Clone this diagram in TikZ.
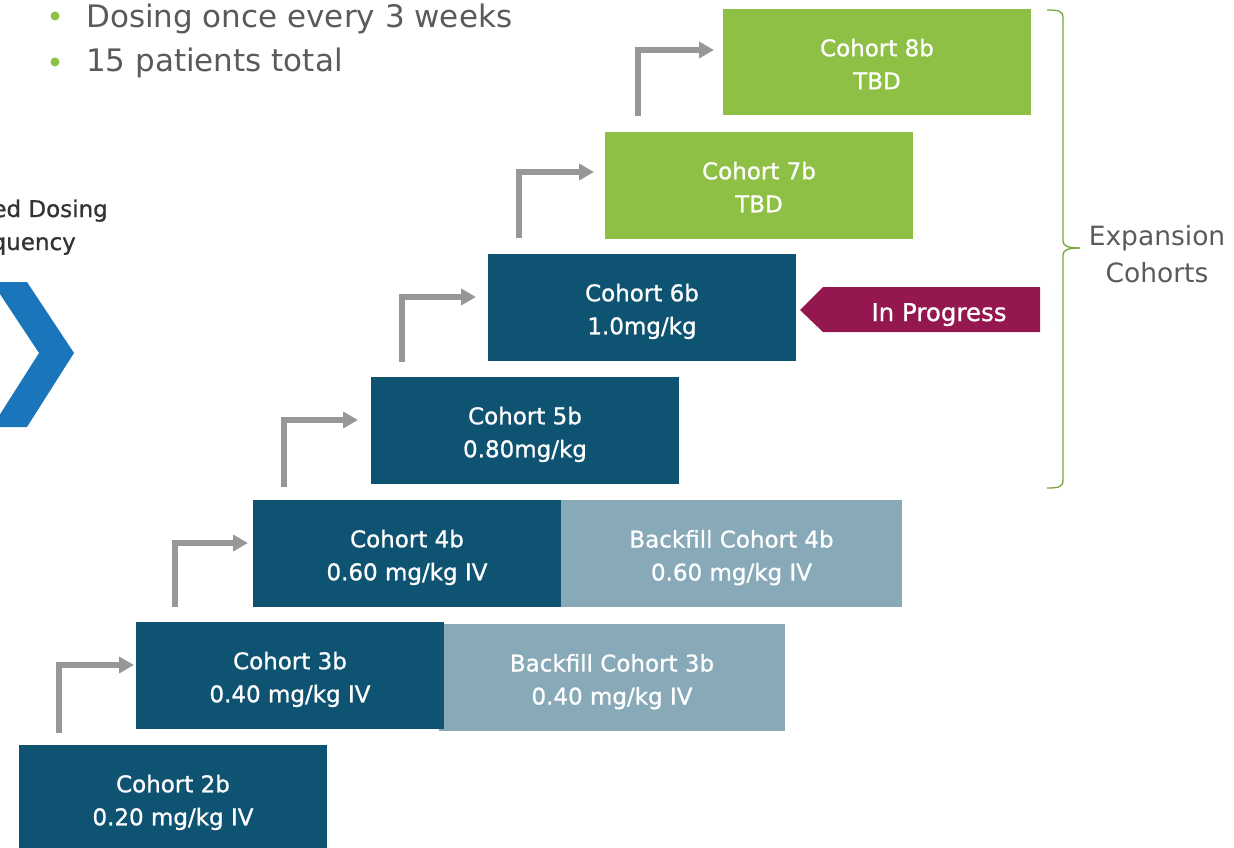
\documentclass[tikz,border=0pt]{standalone}
\usepackage{fontspec}
\setmainfont{DejaVu Sans}
\newfontface\boxfont{DejaVu Sans}[FakeBold=0.9]
\usetikzlibrary{arrows.meta,calc}
\definecolor{cdark}{HTML}{0F5373}
\definecolor{clight}{HTML}{87A9B8}
\definecolor{cgreen}{HTML}{8DC044}
\definecolor{cgray}{HTML}{979797}
\definecolor{cmag}{HTML}{95174F}
\definecolor{cblue}{HTML}{1B75BB}
\definecolor{cbrace}{HTML}{78A541}
\definecolor{ctext}{HTML}{5A5A5A}
\definecolor{cdtext}{HTML}{333333}
\begin{document}
\begin{tikzpicture}[x=1pt,y=-1pt,
  box/.style={anchor=north west, minimum width=308pt, minimum height=106.5pt,
    inner sep=0pt, outer sep=0pt, text=white, align=center,
    text height=56pt, text depth=2pt,
    font=\boxfont\fontsize{23}{33}\selectfont},
  mainbox/.style={box, fill=cdark},
  backbox/.style={box, fill=clight, minimum width=346pt, minimum height=107pt},
  expbox/.style={box, fill=cgreen},
  arr/.style={draw=cgray, line width=6pt, line join=miter, line cap=butt,
    -{Triangle[length=15pt,width=16pt]}},
  bullet/.style={circle, fill=cgreen, minimum size=9pt, inner sep=0pt},
  toptext/.style={anchor=base west, text=ctext, inner sep=0pt, font=\fontsize{31}{37}\selectfont},
  dostext/.style={anchor=base east, text=cdtext, inner sep=0pt, font=\boxfont\fontsize{23}{33}\selectfont}
]
\useasboundingbox (0,0) rectangle (1234,848);

% top bullets
\node[bullet] (d1) at (55,16) {};
\node[bullet] (d2) at (55,62) {};
\node[toptext] (b1) at (86,28) {Dosing once every 3 weeks};
\node[toptext] (b2) at (86,72) {15 patients total};

% left partial title and chevron
\node[dostext] (dos1) at (108,217) {ed Dosing};
\node[dostext] (dos2) at (76,250) {quency};
\fill[cblue] (-8,282) -- (27,282) -- (74,353) -- (27,427) -- (-8,427) -- (39,353) -- cycle;

% backfill boxes
\node[backbox] (bf3) at (439,624) {Backfill Cohort 3b\\0.40 mg/kg IV};
\node[backbox, minimum width=341pt] (bf4) at (561,500) {Backfill Cohort 4b\\0.60 mg/kg IV};

% main cohorts
\node[mainbox] (c2) at (19,745) {Cohort 2b\\0.20 mg/kg IV};
\node[mainbox] (c3) at (136,622) {Cohort 3b\\0.40 mg/kg IV};
\node[mainbox] (c4) at (253,500) {Cohort 4b\\0.60 mg/kg IV};
\node[mainbox] (c5) at (371,377) {Cohort 5b\\0.80mg/kg};
\node[mainbox] (c6) at (488,254) {Cohort 6b\\1.0mg/kg};
\node[expbox] (c7) at (605,132) {Cohort 7b\\TBD};
\node[expbox] (c8) at (723,9) {Cohort 8b\\TBD};

% step arrows
\coordinate (s3) at (59,733);  \coordinate (t3) at (134,665);
\coordinate (s4) at (175,607); \coordinate (t4) at (248,543);
\coordinate (s5) at (284,487); \coordinate (t5) at (358,420);
\coordinate (s6) at (402,362); \coordinate (t6) at (476,297);
\coordinate (s7) at (519,238); \coordinate (t7) at (594,172);
\coordinate (s8) at (638,116); \coordinate (t8) at (714,50);
\foreach \i in {3,...,8} { \draw[arr] (s\i) |- (t\i); }

% in progress tag
\fill[cmag] (800,310) -- (823,287) -- (1040,287) -- (1040,332) -- (823,332) -- cycle;
\node[anchor=base, text=white, inner sep=0pt, font=\boxfont\fontsize{24.5}{30}\selectfont] (prog) at (939,321) {In Progress};

% brace
\draw[cbrace, line width=1.3pt]
  (1047,10) .. controls (1059,10) and (1063,11) .. (1063,18) -- (1063,241)
  .. controls (1063,246) and (1068,248) .. (1080,248);
\draw[cbrace, line width=1.3pt]
  (1080,248) .. controls (1068,248) and (1063,250) .. (1063,255) -- (1063,480)
  .. controls (1063,487) and (1059,488) .. (1047,488);
\node[align=center, text=ctext, inner sep=0pt, font=\fontsize{26.5}{36.5}\selectfont] (exp) at (1157,254) {Expansion\\Cohorts};
\end{tikzpicture}
\end{document}
